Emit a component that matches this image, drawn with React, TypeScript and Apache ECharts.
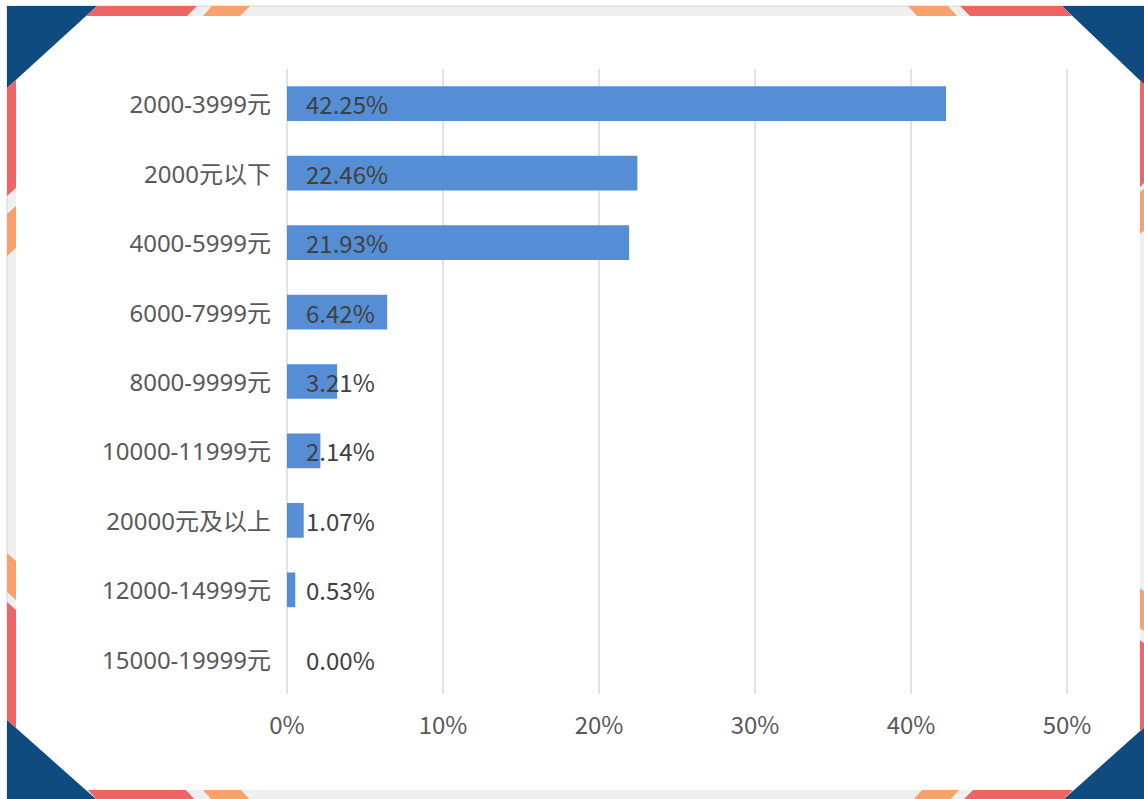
import React, { useEffect, useRef } from "react";
import * as echarts from "echarts";

const categories = [
  "2000-3999元",
  "2000元以下",
  "4000-5999元",
  "6000-7999元",
  "8000-9999元",
  "10000-11999元",
  "20000元及以上",
  "12000-14999元",
  "15000-19999元",
];
const shares = [42.25, 22.46, 21.93, 6.42, 3.21, 2.14, 1.07, 0.53, 0.0];
const tickValues = [0, 10, 20, 30, 40, 50];

const BLUE = "#104B7F";
const RED = "#EE6565";
const ORANGE = "#F9A16C";
const STRIP = "#EFEFEF";

function poly(points: number[][], fill: string) {
  return { type: "polygon", silent: true, shape: { points }, style: { fill } };
}

export default function App() {
  const ref = useRef<HTMLDivElement>(null);
  useEffect(() => {
    document.body.style.margin = "0";
    const chart = echarts.init(ref.current!, null, { renderer: "svg" });
    const font = "'Noto Sans CJK SC', 'Noto Sans', sans-serif";
    const catFont = "'Noto Sans', 'Noto Sans CJK SC', sans-serif";
    chart.setOption({
      animation: false,
      backgroundColor: "#ffffff",
      graphic: [
        { type: "rect", silent: true, z: -10, shape: { x: 7, y: 6, width: 1150, height: 800 }, style: { fill: STRIP, stroke: "#D6D6D6", lineWidth: 1 } },
        { type: "rect", silent: true, z: -9, shape: { x: 16, y: 16, width: 1124, height: 774 }, style: { fill: "#ffffff" } },
        // top-left
        poly([[7, 6], [97, 6], [7, 88]], BLUE),
        poly([[97, 6], [197, 6], [187, 16], [86, 16]], RED),
        poly([[212, 6], [250, 6], [240, 16], [203, 16]], ORANGE),
        poly([[7, 88], [16, 80], [16, 188], [7, 196]], RED),
        poly([[7, 214], [16, 206], [16, 248], [7, 256]], ORANGE),
        // bottom-left
        poly([[7, 720], [7, 800], [97, 800]], BLUE),
        poly([[7, 720], [16, 728], [16, 610], [7, 602]], RED),
        poly([[7, 553], [16, 561], [16, 600], [7, 592]], ORANGE),
        poly([[97, 800], [195, 800], [186, 790], [88, 790]], RED),
        poly([[212, 800], [250, 800], [241, 790], [203, 790]], ORANGE),
        // top-right
        poly([[1062, 6], [1150, 6], [1150, 90]], BLUE),
        poly([[960, 6], [1062, 6], [1072, 16], [970, 16]], RED),
        poly([[908, 6], [948, 6], [957, 16], [917, 16]], ORANGE),
        poly([[1140, 80], [1150, 90], [1150, 177], [1140, 187]], RED),
        poly([[1140, 192], [1150, 184], [1150, 226], [1140, 234]], ORANGE),
        // bottom-right
        poly([[1150, 722], [1150, 800], [1063, 800]], BLUE),
        poly([[963, 800], [1063, 800], [1073, 790], [973, 790]], RED),
        poly([[913, 800], [950, 800], [959, 790], [922, 790]], ORANGE),
        poly([[1140, 640], [1150, 648], [1150, 722], [1140, 732]], RED),
        poly([[1140, 588], [1150, 596], [1150, 636], [1140, 628]], ORANGE),
      ],
      grid: { left: 287, right: 77, top: 69, bottom: 105, containLabel: false },
      xAxis: {
        type: "value",
        min: tickValues[0],
        max: tickValues[tickValues.length - 1],
        interval: 10,
        axisLine: { show: false },
        axisTick: { show: false },
        splitLine: { show: true, lineStyle: { color: "#D9D9D9", width: 1.5 } },
        axisLabel: { formatter: "{value}%", color: "#595959", fontSize: 24, fontFamily: font, margin: 17 },
      },
      yAxis: {
        type: "category",
        inverse: true,
        data: categories,
        axisLine: { show: false },
        axisTick: { show: false },
        axisLabel: { color: "#595959", fontSize: 24, fontFamily: catFont, margin: 16 },
      },
      series: [
        {
          type: "bar",
          data: shares,
          barWidth: "50%",
          itemStyle: { color: "#558ED5" },
          label: {
            show: true,
            position: "insideLeft",
            distance: 19,
            formatter: (p: any) => p.value.toFixed(2) + "%",
            color: "#404040",
            fontSize: 24,
            fontFamily: font,
          },
        },
      ],
    });
    return () => chart.dispose();
  }, []);
  return <div ref={ref} style={{ width: 1144, height: 799 }} />;
}
